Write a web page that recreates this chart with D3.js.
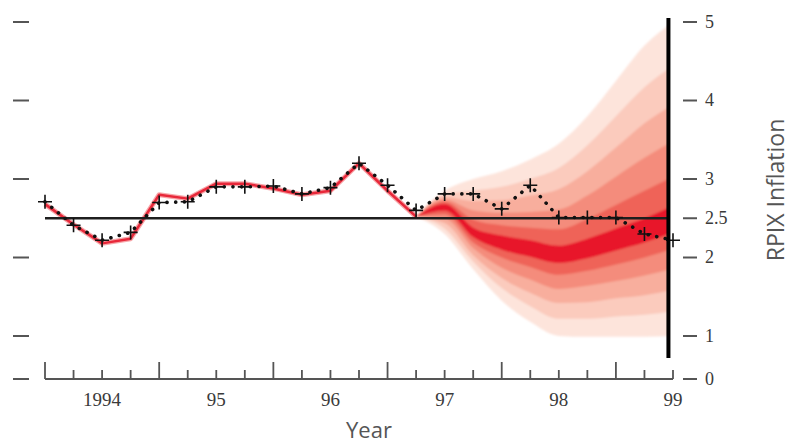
<!DOCTYPE html>
<html>
<head>
<meta charset="utf-8">
<script src="https://cdn.jsdelivr.net/npm/d3@7"></script>
<style>
  body { margin: 0; background: #fff; }
  svg { display: block; }
</style>
</head>
<body>
<svg id="chart" width="792" height="443"></svg>
<script>
// ---- data ---------------------------------------------------------------
// quarters, as fractions of a year
var quarters = [1993.5, 1993.75, 1994, 1994.25, 1994.5, 1994.75, 1995, 1995.25,
                1995.5, 1995.75, 1996, 1996.25, 1996.5, 1996.75, 1997, 1997.25,
                1997.5, 1997.75, 1998, 1998.25, 1998.5, 1998.75, 1999];
var yearTicks  = [1994, 1995, 1996, 1997, 1998, 1999];
var yearLabels = ["1994", "95", "96", "97", "98", "99"];
var leftTicks  = [0, 1, 2, 3, 4, 5];
var rightTicks = [0, 1, 2, 2.5, 3, 4, 5];
var target = 2.5;

// outturn RPIX (crosses + dotted line)
var outturn = [2.71, 2.41, 2.22, 2.32, 2.70, 2.71, 2.90, 2.90, 2.91, 2.81, 2.89, 3.20,
               2.92, 2.60, 2.81, 2.81, 2.62, 2.92, 2.51, 2.51, 2.51, 2.30, 2.22];
// historical red line (first 14 quarters)
var redHistory = [2.68, 2.42, 2.18, 2.24, 2.80, 2.75, 2.94, 2.94, 2.88, 2.80, 2.85, 3.20,
                  2.85, 2.52];

// fan chart, quarters 1996.75 .. 1999, edges from outer band to central band
var fanUpper = [
  [2.52, 2.85, 3.00, 3.10, 3.25, 3.45, 3.80, 4.25, 4.70, 5.00],
  [2.52, 2.81, 2.85, 2.90, 3.00, 3.14, 3.43, 3.80, 4.17, 4.44],
  [2.52, 2.77, 2.72, 2.73, 2.79, 2.87, 3.10, 3.40, 3.71, 3.95],
  [2.52, 2.74, 2.60, 2.57, 2.58, 2.61, 2.79, 3.03, 3.27, 3.48],
  [2.52, 2.71, 2.48, 2.41, 2.38, 2.36, 2.49, 2.67, 2.85, 3.03],
  [2.52, 2.68, 2.38, 2.28, 2.22, 2.15, 2.24, 2.37, 2.50, 2.66]
];
var fanLower = [
  [2.52, 2.30, 1.85, 1.45, 1.18, 1.00, 0.98, 0.98, 0.98, 1.00],
  [2.52, 2.37, 1.95, 1.61, 1.38, 1.22, 1.22, 1.25, 1.27, 1.32],
  [2.52, 2.44, 2.03, 1.74, 1.55, 1.42, 1.43, 1.48, 1.52, 1.59],
  [2.52, 2.50, 2.12, 1.87, 1.72, 1.60, 1.64, 1.70, 1.77, 1.86],
  [2.52, 2.55, 2.19, 2.00, 1.88, 1.78, 1.83, 1.91, 2.00, 2.11],
  [2.52, 2.60, 2.26, 2.10, 2.01, 1.93, 1.99, 2.09, 2.19, 2.32]
];
var fanColors = ["#fde4db", "#fbcbbd", "#f8ae9d", "#f48c7b", "#ef6459", "#e8172c"];

// ---- scales -------------------------------------------------------------
var svg = d3.select("#chart");
var x = d3.scaleLinear().domain([1993.5, 1999]).range([45, 673]);
var y = d3.scaleLinear().domain([0, 1, 5]).range([379, 336, 22]);
var fanEnd = 1998.96;   // position of the heavy vertical line

var fanQuarters = quarters.slice(13);

var defs = svg.append("defs");
defs.append("clipPath").attr("id", "fanclip")
  .append("rect")
  .attr("x", x(1993.5)).attr("y", 0)
  .attr("width", x(fanEnd) - x(1993.5)).attr("height", 443);
// soft edges like the printed fan
defs.append("filter").attr("id", "soft")
  .attr("x", "-5%").attr("y", "-5%").attr("width", "110%").attr("height", "110%")
  .append("feGaussianBlur").attr("stdDeviation", 1.3);

// ---- fan -------------------------------------------------------------------
var fanG = svg.append("g").attr("clip-path", "url(#fanclip)")
  .append("g").attr("filter", "url(#soft)");
fanUpper.forEach(function(up, i) {
  var lo = fanLower[i];
  var area = d3.area()
    .x(function(d, j) { return x(fanQuarters[j]); })
    .y0(function(d, j) { return y(lo[j]); })
    .y1(function(d, j) { return y(up[j]); })
    .curve(d3.curveMonotoneX);
  fanG.append("path")
    .attr("d", area(up))
    .attr("fill", fanColors[i]);
});

// ---- historical red line -------------------------------------------------
var line = d3.line()
  .x(function(d, i) { return x(quarters[i]); })
  .y(function(d) { return y(d); });

svg.append("path")
  .attr("d", line(redHistory))
  .attr("fill", "none")
  .attr("stroke", "#f7a7aa")
  .attr("stroke-width", 5)
  .attr("stroke-linejoin", "round");
svg.append("path")
  .attr("d", line(redHistory))
  .attr("fill", "none")
  .attr("stroke", "#e8283a")
  .attr("stroke-width", 2.5)
  .attr("stroke-linejoin", "round");

// ---- target line ---------------------------------------------------------
svg.append("line")
  .attr("x1", x(1993.5)).attr("x2", x(fanEnd))
  .attr("y1", y(target)).attr("y2", y(target))
  .attr("stroke", "#1e1e1e")
  .attr("stroke-width", 2.6);

// ---- outturn: dotted line + crosses -------------------------------------
svg.append("path")
  .attr("d", line(outturn))
  .attr("fill", "none")
  .attr("stroke", "#111")
  .attr("stroke-width", 3.6)
  .attr("stroke-linecap", "round")
  .attr("stroke-dasharray", "0.1 8.6");

svg.selectAll(".cross")
  .data(outturn)
  .enter()
  .append("path")
  .attr("class", "cross")
  .attr("transform", function(d, i) { return "translate(" + x(quarters[i]) + "," + y(d) + ")"; })
  .attr("d", "M-7,0H7M0,-7V7")
  .attr("stroke", "#111")
  .attr("stroke-width", 1.6);

// ---- heavy vertical line ------------------------------------------------
svg.append("line")
  .attr("x1", x(fanEnd)).attr("x2", x(fanEnd))
  .attr("y1", 18).attr("y2", 358)
  .attr("stroke", "#000")
  .attr("stroke-width", 4);

// ---- x axis -------------------------------------------------------------
svg.append("line")
  .attr("x1", x(1993.5)).attr("x2", x(1999))
  .attr("y1", y(0)).attr("y2", y(0))
  .attr("stroke", "#555")
  .attr("stroke-width", 1.8);

svg.selectAll(".xtick")
  .data(quarters)
  .enter()
  .append("line")
  .attr("class", "xtick")
  .attr("x1", function(d) { return x(d); })
  .attr("x2", function(d) { return x(d); })
  .attr("y1", y(0))
  .attr("y2", function(d, i) { return (i % 4 === 0 && i < 22) ? y(0) - 17 : y(0) - 9; })
  .attr("stroke", "#555")
  .attr("stroke-width", 1.8);

svg.selectAll(".xlabel")
  .data(yearTicks)
  .enter()
  .append("text")
  .attr("class", "xlabel")
  .attr("x", function(d) { return x(d); })
  .attr("y", 406)
  .attr("text-anchor", "middle")
  .attr("font-family", "Liberation Serif, serif")
  .attr("font-size", 19)
  .attr("fill", "#3a3a3a")
  .text(function(d, i) { return yearLabels[i]; });

svg.append("text")
  .attr("x", 369)
  .attr("y", 438)
  .attr("text-anchor", "middle")
  .attr("font-family", "Open Sans, sans-serif")
  .attr("font-size", 22)
  .attr("fill", "#555")
  .text("Year");

// ---- left axis (unlabelled dashes) --------------------------------------
svg.selectAll(".ltick")
  .data(leftTicks)
  .enter()
  .append("line")
  .attr("class", "ltick")
  .attr("x1", 13).attr("x2", 29)
  .attr("y1", function(d) { return y(d); })
  .attr("y2", function(d) { return y(d); })
  .attr("stroke", "#555")
  .attr("stroke-width", 2);

// ---- right axis ---------------------------------------------------------
var rt = svg.selectAll(".rtick")
  .data(rightTicks)
  .enter()
  .append("g")
  .attr("class", "rtick")
  .attr("transform", function(d) { return "translate(0," + y(d) + ")"; });
rt.append("line")
  .attr("x1", 683).attr("x2", 697)
  .attr("stroke", "#555")
  .attr("stroke-width", 2);
rt.append("text")
  .attr("x", 705)
  .attr("dy", "0.33em")
  .attr("font-family", "Liberation Serif, serif")
  .attr("font-size", 18)
  .attr("fill", "#3a3a3a")
  .text(function(d) { return d; });

svg.append("text")
  .attr("transform", "translate(784,190) rotate(-90)")
  .attr("text-anchor", "middle")
  .attr("font-family", "Open Sans, sans-serif")
  .attr("font-size", 23)
  .attr("fill", "#555")
  .text("RPIX Inflation");
</script>
</body>
</html>
